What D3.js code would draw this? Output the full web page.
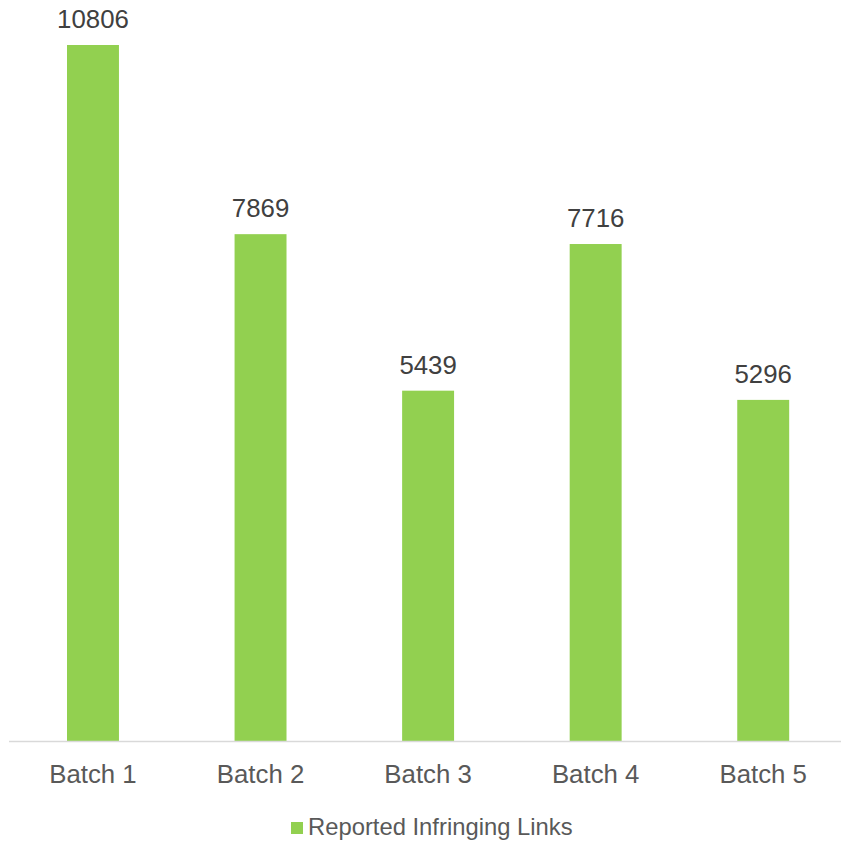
<!DOCTYPE html>
<html><head><meta charset="utf-8">
<script src="https://cdn.jsdelivr.net/npm/d3@7"></script>
<style>html,body{margin:0;padding:0;background:#fff;}svg{display:block;}</style>
</head><body>
<script>
const categories = ["Batch 1","Batch 2","Batch 3","Batch 4","Batch 5"];
const values = [10806, 7869, 5439, 7716, 5296];
const seriesName = "Reported Infringing Links";

const W = 841, H = 842;
const svg = d3.select("body").append("svg").attr("width", W).attr("height", H);
const baseY = 741;
const x = d3.scaleBand().domain(categories).range([9.2, 847]).paddingInner(0).paddingOuter(0);
const y = d3.scaleLinear().domain([0, 12000]).range([baseY, baseY - 12000 * (696 / 10806)]);
const barW = x.bandwidth() * 0.31;
const font = "Liberation Sans, Arial, sans-serif";

svg.selectAll("rect.bar").data(values).enter().append("rect")
  .attr("class","bar")
  .attr("x", (d,i) => x(categories[i]) + x.bandwidth()/2 - barW/2)
  .attr("width", barW)
  .attr("y", d => y(d))
  .attr("height", d => y(0) - y(d))
  .attr("fill", "#92D050");

svg.append("line").attr("x1", 9).attr("x2", W).attr("y1", baseY + 0.5).attr("y2", baseY + 0.5)
  .attr("stroke", "#D9D9D9").attr("stroke-width", 1.5);

svg.selectAll("text.val").data(values).enter().append("text")
  .attr("class","val")
  .attr("x", (d,i) => x(categories[i]) + x.bandwidth()/2)
  .attr("y", d => y(d) - 17)
  .attr("text-anchor","middle")
  .attr("font-family", font).attr("font-size", 25.8).attr("fill", "#404040")
  .text(d => d);

svg.selectAll("text.cat").data(categories).enter().append("text")
  .attr("class","cat")
  .attr("x", d => x(d) + x.bandwidth()/2)
  .attr("y", 783)
  .attr("text-anchor","middle")
  .attr("font-family", font).attr("font-size", 25.8).attr("fill", "#595959")
  .text(d => d);

const lg = svg.append("g");
lg.append("rect").attr("x", 291).attr("y", 822).attr("width", 12).attr("height", 12).attr("fill", "#92D050");
lg.append("text").attr("x", 308).attr("y", 835)
  .attr("font-family", font).attr("font-size", 23.8).attr("fill", "#595959")
  .text(seriesName);
</script>
</body></html>
